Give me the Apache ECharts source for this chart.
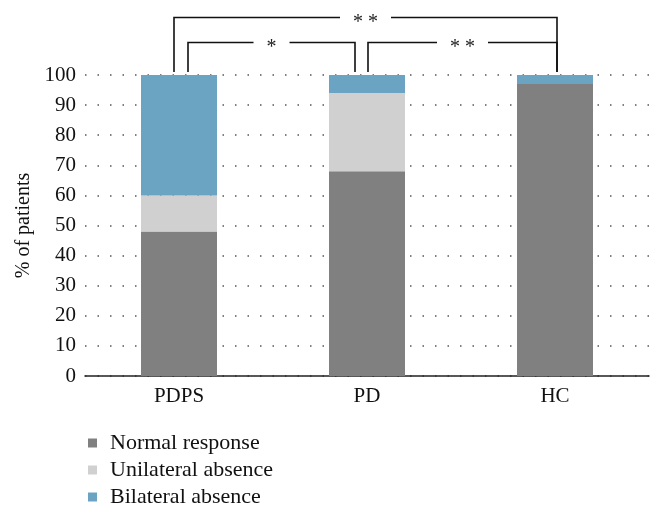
<!DOCTYPE html>
<html>
<head>
<meta charset="utf-8">
<script src="https://cdn.jsdelivr.net/npm/echarts@6/dist/echarts.min.js"></script>
<style>html,body{margin:0;padding:0;background:#fff;}#c{width:660px;height:518px;}</style>
</head>
<body>
<div id="c"></div>
<script>
var categories = ['PDPS', 'PD', 'HC'];
var normalResponse = [48, 68, 97];
var unilateralAbsence = [12, 26, 0];
var bilateralAbsence = [40, 6, 3];
var yTicks = [0, 10, 20, 30, 40, 50, 60, 70, 80, 90, 100];
// significance brackets: [fromCategory, toCategory, level(%), label]
var brackets = [
  ['PDPS', 'HC', 119.3, '* *'],
  ['PDPS', 'PD', 110.8, '*'],
  ['PD', 'HC', 110.8, '* *']
];
// leg pixel offsets from category centre (style only)
var legOffsets = [[-5, 2], [9, -12], [1, 2]];
var legBottom = 101;

var FONT = 'Liberation Serif';
var chart = echarts.init(document.getElementById('c'));

function bracketItem(params, api) {
  var i = params.dataIndex;
  var b = brackets[i];
  var off = legOffsets[i];
  var p1 = api.coord([b[0], b[2]]);
  var p2 = api.coord([b[1], b[2]]);
  var q1 = api.coord([b[0], legBottom]);
  var x1 = p1[0] + off[0], x2 = p2[0] + off[1];
  var y = Math.round(p1[1]) + 0.5;
  return {
    type: 'group',
    children: [
      {
        type: 'polyline',
        shape: { points: [[x1, q1[1]], [x1, y], [x2, y], [x2, q1[1]]] },
        style: { stroke: '#111', lineWidth: 1.6, fill: null }
      },
      {
        type: 'text',
        x: (x1 + x2) / 2,
        y: y + 5,
        style: {
          text: b[3], fontFamily: FONT, fontSize: 20, fill: '#222',
          align: 'center', verticalAlign: 'middle',
          backgroundColor: '#fff', padding: [0, 13, 0, 13]
        }
      }
    ]
  };
}

chart.setOption({
  animation: false,
  textStyle: { fontFamily: FONT },
  grid: { left: 85, right: 11, top: 75, bottom: 142 },
  legend: {
    orient: 'vertical',
    left: 88, top: 432,
    height: 86,
    padding: 0,
    itemWidth: 9, itemHeight: 9, itemGap: 5,
    icon: 'rect',
    textStyle: { fontFamily: FONT, fontSize: 22, color: '#111', padding: [0, 0, 0, 8] },
    data: ['Normal response', 'Unilateral absence', 'Bilateral absence']
  },
  xAxis: {
    type: 'category',
    data: categories,
    axisLine: { lineStyle: { color: '#222', width: 1.5 } },
    axisTick: { show: false },
    axisLabel: { fontFamily: FONT, fontSize: 21, color: '#111', margin: 10 }
  },
  yAxis: {
    type: 'value',
    min: 0, max: 100, interval: 10,
    name: '% of patients',
    nameLocation: 'middle',
    nameGap: 47,
    nameTextStyle: { fontFamily: FONT, fontSize: 20, color: '#111' },
    axisLine: { show: false },
    axisTick: { show: false },
    axisLabel: {
      fontFamily: FONT, fontSize: 21, color: '#111', margin: 9,
      formatter: function (v) { return yTicks.indexOf(v) >= 0 ? String(v) : ''; }
    },
    splitLine: { lineStyle: { color: '#555', width: 1.5, type: [1.5, 11] } }
  },
  series: [
    { name: 'Normal response', type: 'bar', stack: 's', barWidth: 76, data: normalResponse, itemStyle: { color: '#808080' } },
    { name: 'Unilateral absence', type: 'bar', stack: 's', barWidth: 76, data: unilateralAbsence, itemStyle: { color: '#d0d0d0' } },
    { name: 'Bilateral absence', type: 'bar', stack: 's', barWidth: 76, data: bilateralAbsence, itemStyle: { color: '#6ba4c2' } },
    {
      type: 'custom', clip: false, silent: true,
      renderItem: bracketItem,
      data: brackets.map(function (b) { return [b[0], b[2]]; }),
      z: 10
    }
  ]
});
</script>
</body>
</html>
